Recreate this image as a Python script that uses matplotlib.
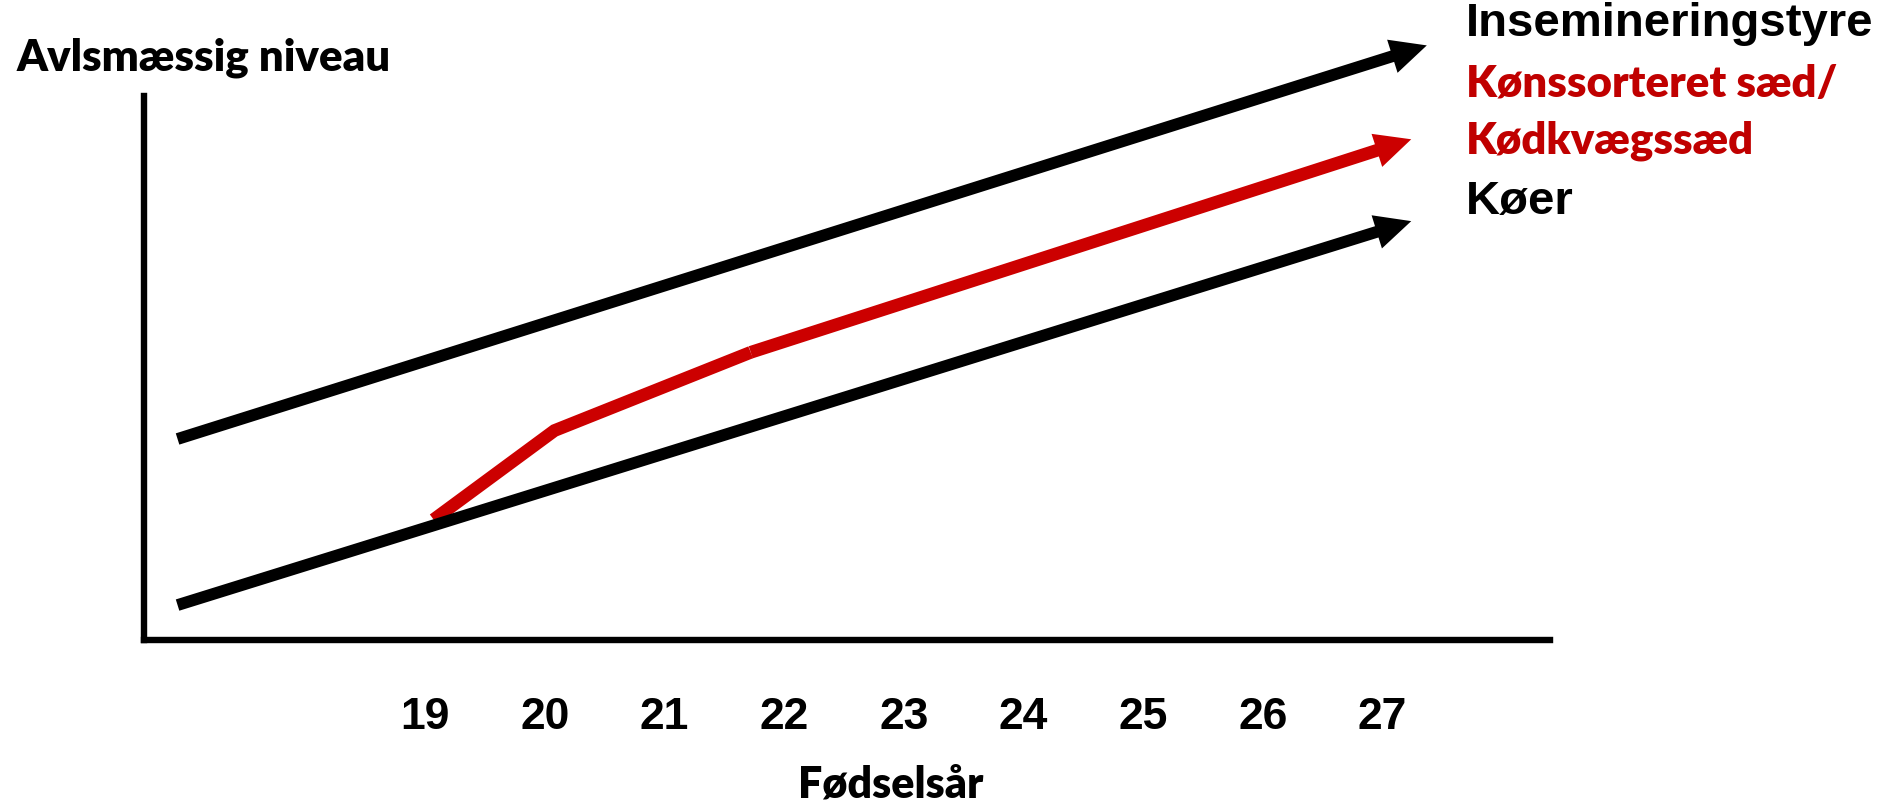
import matplotlib
matplotlib.use("Agg")
import matplotlib.pyplot as plt

# data (x = fødselsår, y = avlsmæssigt niveau, arbitrary units)
years = [19, 20, 21, 22, 23, 24, 25, 26, 27]
year_labels = ["19", "20", "21", "22", "23", "24", "25", "26", "27"]

tyre_x = [16.93, 27.37]
tyre_y = [1.67, 4.94]

koen_x = [19.07, 20.08, 21.72, 27.24]
koen_y = [1.00, 1.74, 2.39, 4.16]

koer_x = [16.93, 27.24]
koer_y = [0.29, 3.48]

BLACK = "black"
RED = "#CC0000"
RED_TXT = "#C00000"

fig = plt.figure(figsize=(18.88, 8.05), dpi=100)
ax = fig.add_axes([0.0763, 0.205, 0.7447, 0.6758])
ax.set_xlim(16.65, 28.40)
ax.set_ylim(0, 4.52)

for s in ["top", "right"]:
    ax.spines[s].set_visible(False)
for s in ["left", "bottom"]:
    ax.spines[s].set_linewidth(4.6)
    ax.spines[s].set_capstyle("projecting")

ax.set_yticks([])
ax.set_xticks(years)
ax.set_xticklabels(year_labels, fontsize=32, fontweight="bold",
                   family="Liberation Sans")
ax.tick_params(axis="x", length=0, pad=41)


def arrow_line(xs, ys, color, lw):
    # polyline up to the last segment, then a filled arrow on the last one
    if len(xs) > 2:
        ax.plot(xs[:-1], ys[:-1], color=color, lw=lw, clip_on=False,
                solid_joinstyle="miter", solid_capstyle="butt")
    style = f"simple,head_length=2.6,head_width=2.5,tail_width={lw / 10:.2f}"
    ax.annotate("", xy=(xs[-1], ys[-1]), xytext=(xs[-2], ys[-2]),
                annotation_clip=False,
                arrowprops=dict(arrowstyle=style, mutation_scale=10, lw=0,
                                fc=color, ec="none", shrinkA=0, shrinkB=0))


arrow_line(tyre_x, tyre_y, BLACK, 8.5)
arrow_line(koer_x, koer_y, BLACK, 8.5)
arrow_line(koen_x, koen_y, RED, 9.2)

# texts
fig.text(0.009, 0.928, "Avlsmæssig niveau", fontsize=31.5, fontweight="heavy",
         family="Lato", va="center", ha="left")
fig.text(0.472, 0.025, "Fødselsår", fontsize=31, fontweight="heavy",
         family="Lato", va="center", ha="center")

fig.text(0.7765, 0.970, "Insemineringstyre", fontsize=34, fontweight="bold",
         family="Liberation Sans", va="center", ha="left")
fig.text(0.7765, 0.896, "Kønssorteret sæd/", fontsize=31.5, fontweight="heavy",
         family="Lato", va="center", ha="left", color=RED_TXT)
fig.text(0.7765, 0.825, "Kødkvægssæd", fontsize=31.5, fontweight="heavy",
         family="Lato", va="center", ha="left", color=RED_TXT)
fig.text(0.7765, 0.749, "Køer", fontsize=34, fontweight="bold",
         family="Liberation Sans", va="center", ha="left")

fig.savefig("out.png", dpi=100)
